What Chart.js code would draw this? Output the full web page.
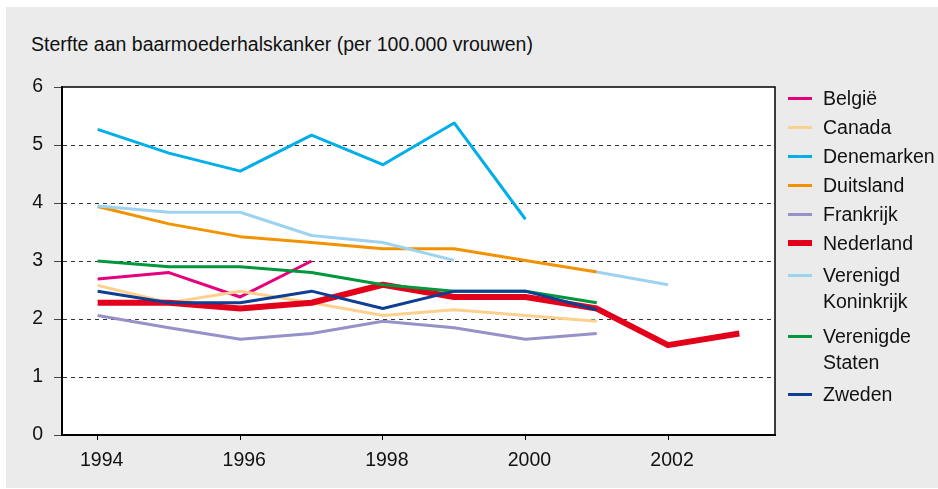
<!DOCTYPE html>
<html lang="nl">
<head>
<meta charset="utf-8">
<script src="https://cdn.jsdelivr.net/npm/chart.js@4/dist/chart.umd.min.js"></script>
<style>
  html, body { margin: 0; padding: 0; background: #fff; }
  body { width: 938px; height: 489px; position: relative; overflow: hidden;
         font-family: 'Liberation Sans', Arial, sans-serif; color: #111; }
  #frame { position: absolute; left: 6px; top: 7px; width: 932px; height: 481px; background: #ebebeb; }
  #title { position: absolute; left: 31px; top: 32px; font-size: 19.5px; line-height: 24px; white-space: nowrap; }
  #chart { position: absolute; left: 0; top: 0; }
  #legend { position: absolute; left: 788px; top: 85px; margin: 0; padding: 0; list-style: none; font-size: 19.5px; }
  #legend li { position: relative; padding-left: 35px; line-height: 26px; margin-bottom: 3px; }
  #legend li.two { padding-top: 3px; padding-bottom: 3px; }
  #legend li span.sw { position: absolute; left: 0; width: 24px; }
</style>
</head>
<body>
<div id="frame"></div>
<div id="title">Sterfte aan baarmoederhalskanker (per 100.000 vrouwen)</div>
<canvas id="chart" width="938" height="489"></canvas>
<ul id="legend"></ul>
<script>
const years = ['1994', '1995', '1996', '1997', '1998', '1999', '2000', '2001', '2002', '2003'];

// sterfte per 100.000 vrouwen
const belgie     = [2.69, 2.80, 2.38, 3.00, null, null, null, null, null, null];
const canada     = [2.58, 2.28, 2.48, 2.28, 2.06, 2.16, 2.06, 1.96, null, null];
const denemarken = [5.27, 4.86, 4.55, 5.17, 4.66, 5.38, 3.72, null, null, null];
const duitsland  = [3.94, 3.64, 3.42, 3.32, 3.21, 3.21, 3.01, 2.81, null, null];
const frankrijk  = [2.06, 1.85, 1.65, 1.75, 1.96, 1.85, 1.65, 1.75, null, null];
const nederland  = [2.28, 2.28, 2.18, 2.28, 2.59, 2.38, 2.38, 2.18, 1.55, 1.75];
const vk         = [3.95, 3.84, 3.84, 3.44, 3.32, 3.01, null, 2.81, 2.59, null];
const vs         = [3.00, 2.90, 2.90, 2.80, 2.59, 2.48, 2.48, 2.28, null, null];
const zweden     = [2.48, 2.28, 2.28, 2.48, 2.18, 2.48, 2.48, 2.16, null, null];

const series = [
  { label: ['België'], data: belgie, color: '#e5007d', width: 3 },
  { label: ['Canada'], data: canada, color: '#fdd08e', width: 3 },
  { label: ['Denemarken'], data: denemarken, color: '#00aee8', width: 3 },
  { label: ['Duitsland'], data: duitsland, color: '#f39200', width: 3 },
  { label: ['Frankrijk'], data: frankrijk, color: '#9691c6', width: 3 },
  { label: ['Nederland'], data: nederland, color: '#e3001b', width: 6 },
  { label: ['Verenigd', 'Koninkrijk'], data: vk, color: '#9dd3f0', width: 3 },
  { label: ['Verenigde', 'Staten'], data: vs, color: '#00963c', width: 3 },
  { label: ['Zweden'], data: zweden, color: '#0e3f92', width: 3 },
];

const FONT = { family: "'Liberation Sans', Arial, sans-serif", size: 19.5 };

// witte plotvlak + dunne rand boven/rechts
const plotArea = {
  id: 'plotArea',
  beforeDraw(chart) {
    const { ctx, chartArea: a } = chart;
    ctx.save();
    ctx.fillStyle = '#fff';
    ctx.fillRect(a.left, a.top, a.right - a.left, a.bottom - a.top);
    ctx.restore();
  },
  afterDraw(chart) {
    const { ctx, chartArea: a } = chart;
    ctx.save();
    ctx.strokeStyle = '#000';
    ctx.lineWidth = 1.5;
    ctx.beginPath();
    ctx.moveTo(a.left, a.top);
    ctx.lineTo(a.right, a.top);
    ctx.lineTo(a.right, a.bottom);
    ctx.stroke();
    ctx.restore();
  },
};

const chart = new Chart(document.getElementById('chart'), {
  type: 'line',
  data: {
    labels: years,
    datasets: series.map((s, i) => ({
      label: s.label.join(' '),
      data: s.data,
      borderColor: s.color,
      backgroundColor: s.color,
      borderWidth: s.width,
      pointRadius: 0,
      tension: 0,
      spanGaps: false,
      borderJoinStyle: 'round',
      order: series.length - i, // latere reeksen bovenop
    })),
  },
  options: {
    responsive: false,
    animation: false,
    layout: { padding: { left: 0, top: 87, right: 163, bottom: 0 } },
    plugins: { legend: { display: false }, tooltip: { enabled: false } },
    scales: {
      x: {
        offset: true,
        afterFit: s => { s.height = 54; },
        border: { color: '#000', width: 2 },
        grid: {
          drawOnChartArea: false,
          tickLength: 5,
          color: ctx => (ctx.index % 2 === 0 ? '#000' : 'rgba(0,0,0,0)'),
        },
        ticks: {
          autoSkip: false,
          maxRotation: 0,
          padding: 9,
          labelOffset: 4,
          color: '#111',
          font: FONT,
          callback: (v, i) => (i % 2 === 0 ? years[i] : ''),
        },
      },
      y: {
        min: 0,
        max: 6,
        afterFit: s => { s.width = 62; },
        // in v4 bepaalt border.dash de streepjes van de rasterlijnen
        border: { color: '#000', width: 2, dash: [4, 4] },
        grid: {
          color: ctx => (ctx.tick && (ctx.tick.value === 0 || ctx.tick.value === 6) ? 'rgba(0,0,0,0)' : '#333'),
          tickBorderDash: [],
          tickColor: '#444',
          tickLength: 8,
          lineWidth: 1,
        },
        ticks: { stepSize: 1, padding: 11, color: '#111', font: FONT },
      },
    },
  },
  plugins: [plotArea],
});

// legenda met tekstafbreking zoals in het origineel
const legendEl = document.getElementById('legend');
series.forEach(s => {
  const li = document.createElement('li');
  if (s.label.length > 1) li.className = 'two';
  const sw = document.createElement('span');
  sw.className = 'sw';
  sw.style.height = s.width + 'px';
  sw.style.background = s.color;
  sw.style.top = ((s.label.length > 1 ? 3 : 0) + 13 - s.width / 2) + 'px';
  li.appendChild(sw);
  li.innerHTML += s.label.join('<br>');
  legendEl.appendChild(li);
});
</script>
</body>
</html>
